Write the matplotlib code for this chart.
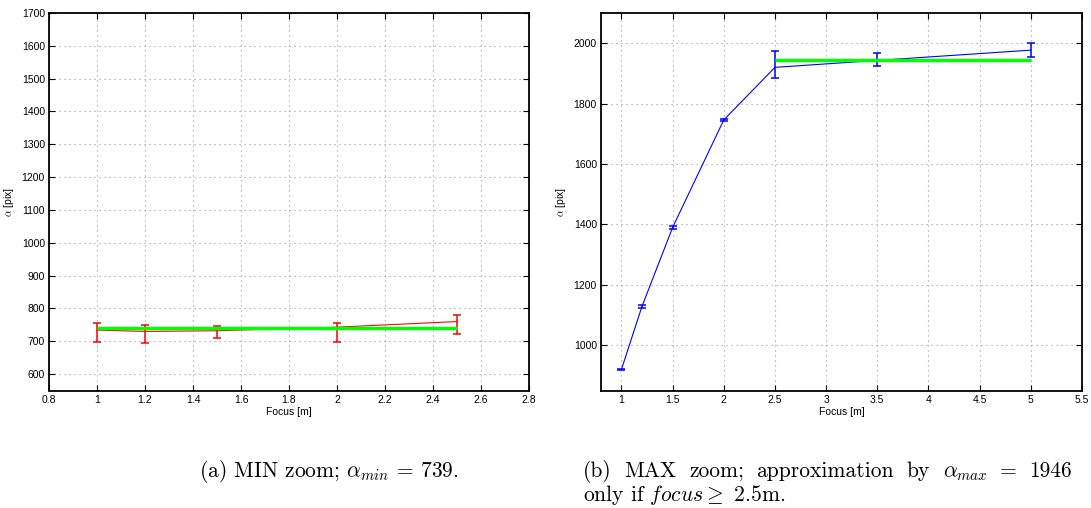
import matplotlib
matplotlib.use("Agg")
import matplotlib.pyplot as plt
import numpy as np

# --- MIN zoom measurements ---
focus_min = [1.0, 1.2, 1.5, 2.0, 2.5]
alpha_min_mean = [734, 730, 732, 743, 760]
alpha_min_low = [697, 695, 711, 699, 722]
alpha_min_high = [757, 751, 745, 757, 780]
alpha_min_fit = 739
fit_min_range = [1.0, 2.5]

# --- MAX zoom measurements ---
focus_max = [1.0, 1.2, 1.5, 2.0, 2.5, 3.5, 5.0]
alpha_max_mean = [920, 1128, 1390, 1746, 1920, 1943, 1977]
alpha_max_low = [918, 1124, 1386, 1742, 1885, 1925, 1953]
alpha_max_high = [922, 1134, 1395, 1750, 1973, 1969, 2001]
alpha_max_fit = 1946
fit_max_range = [2.5, 5.0]

xticks_min = [0.8, 1.0, 1.2, 1.4, 1.6, 1.8, 2.0, 2.2, 2.4, 2.6, 2.8]
yticks_min = list(range(600, 1701, 100))
xticks_max = [1, 1.5, 2, 2.5, 3, 3.5, 4, 4.5, 5, 5.5]
yticks_max = [1000, 1200, 1400, 1600, 1800, 2000]

caption_a = r"(a) MIN zoom; $\alpha_{min}$ = 739."
caption_b_words = ["(b)", "MAX", "zoom;", "approximation", "by",
                   r"$\alpha_{max}$", "=", "1946"]
caption_b_line2 = r"only if $focus \geq$ 2.5m."

plt.rcParams["mathtext.fontset"] = "cm"
tick_font = ["Liberation Sans", "DejaVu Sans"]

fig = plt.figure(figsize=(10.91, 5.08), dpi=100)
W, H = 1091, 508
ax1 = fig.add_axes([49 / W, 1 - 390.5 / H, 480 / W, 377.5 / H])
ax2 = fig.add_axes([601 / W, 1 - 390.5 / H, 481 / W, 377.5 / H])


def style(ax, xt, yt, xlim, ylim):
    ax.set_xlim(*xlim)
    ax.set_ylim(*ylim)
    ax.set_xticks(xt)
    ax.set_yticks(yt)
    ax.set_xticklabels([f"{v:g}" for v in xt], fontfamily=tick_font, fontsize=7.5)
    ax.set_yticklabels([f"{v:g}" for v in yt], fontfamily=tick_font, fontsize=7.5)
    ax.tick_params(direction="in", top=True, right=True, length=4, width=0.8,
                   pad=3)
    ax.grid(True, color="0.6", linestyle=(0, (1, 3.5)), linewidth=0.8)
    ax.set_axisbelow(True)
    for sp in ax.spines.values():
        sp.set_linewidth(1.3)
    ax.set_xlabel("Focus [m]", fontfamily=tick_font, fontsize=7.5, labelpad=2)
    ax.set_ylabel(r"$\alpha$ [pix]", fontfamily=tick_font, fontsize=7.5,
                  labelpad=4)


# MIN zoom panel
m = np.array(alpha_min_mean)
err_min = [m - np.array(alpha_min_low), np.array(alpha_min_high) - m]
ax1.errorbar(focus_min, alpha_min_mean, yerr=err_min, color=(1, 0, 0),
             lw=0.8, elinewidth=1.1, capsize=2.8, capthick=1.1, zorder=3)
ax1.plot(fit_min_range, [alpha_min_fit] * 2, color=(0, 1, 0), lw=2.5,
         solid_capstyle="butt", zorder=4)
style(ax1, xticks_min, yticks_min, (0.8, 2.8), (550, 1700))

# MAX zoom panel
M = np.array(alpha_max_mean)
err_max = [M - np.array(alpha_max_low), np.array(alpha_max_high) - M]
ax2.errorbar(focus_max, alpha_max_mean, yerr=err_max, color=(0, 0, 1),
             lw=0.8, elinewidth=1.1, capsize=2.8, capthick=1.1, zorder=3)
ax2.plot(fit_max_range, [alpha_max_fit] * 2, color=(0, 1, 0), lw=2.5,
         solid_capstyle="butt", zorder=4)
style(ax2, xticks_max, yticks_max, (0.8, 5.5), (850, 2100))

# Sub-captions
cap_font = dict(fontfamily="cmr10", fontsize=15.5, va="baseline")
fig.text(329 / W, 1 - 477 / H, caption_a, ha="center", **cap_font)

# First line of caption (b) is justified between the caption margins
left_px, right_px = 583, 1072
renderer = fig.canvas.get_renderer()
words = [fig.text(0, 1 - 477 / H, w, ha="left", **cap_font)
         for w in caption_b_words]
widths = [t.get_window_extent(renderer).width for t in words]
gap = (right_px - left_px - sum(widths)) / (len(words) - 1)
x = left_px
for t, w in zip(words, widths):
    t.set_x(x / W)
    x += w + gap
fig.text(left_px / W, 1 - 501 / H, caption_b_line2, ha="left", **cap_font)

fig.savefig("out.png", dpi=100)
